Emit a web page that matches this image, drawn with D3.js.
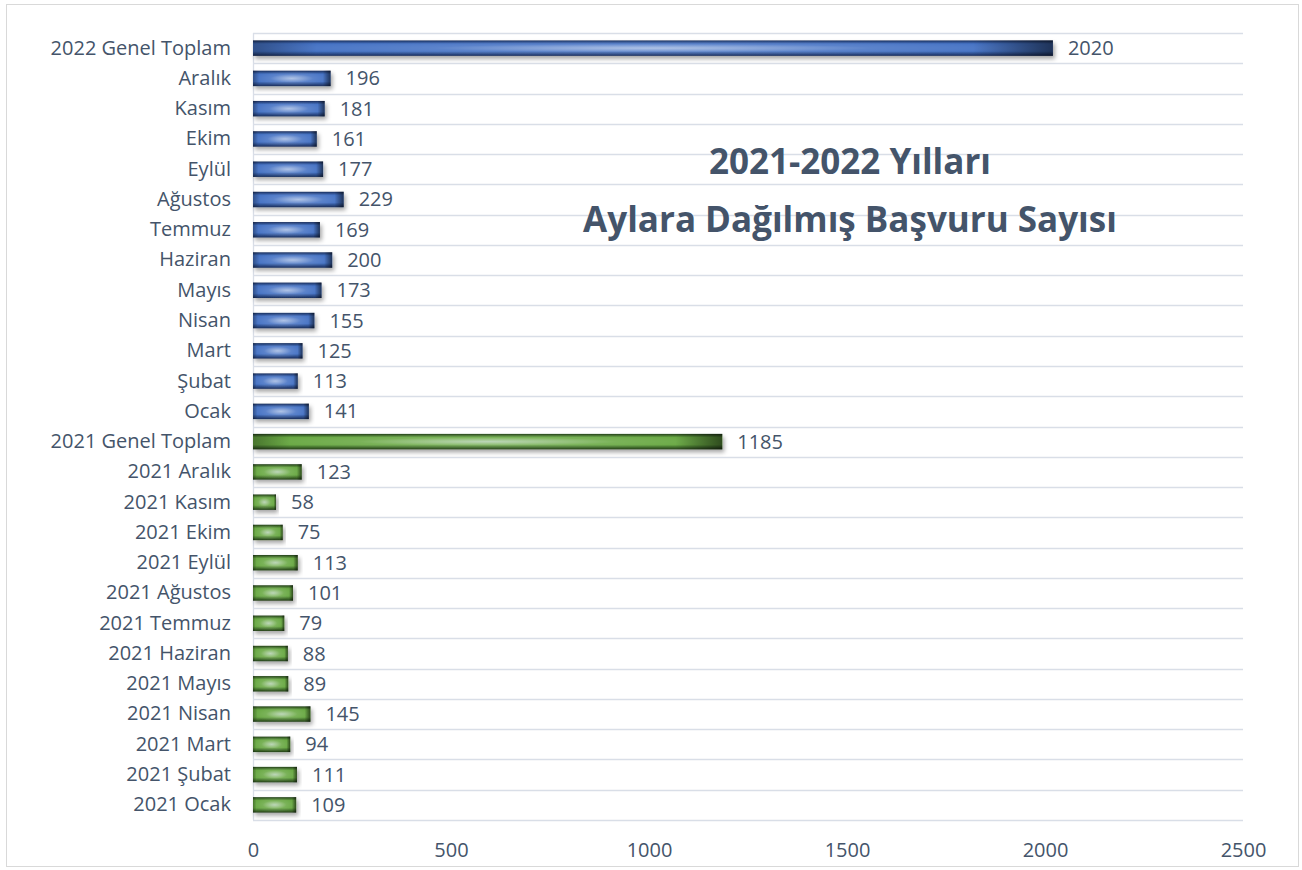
<!DOCTYPE html>
<html>
<head>
<meta charset="utf-8">
<script src="https://cdn.jsdelivr.net/npm/d3@7"></script>
<style>
  body { margin: 0; background: #fff; }
  text { font-family: "Open Sans", "Noto Sans", sans-serif; fill: #44546a; }
</style>
</head>
<body>
<div id="chart"></div>
<script>
// categories, top to bottom
var categories = ["2022 Genel Toplam", "Aralık", "Kasım", "Ekim", "Eylül", "Ağustos", "Temmuz",
	"Haziran", "Mayıs", "Nisan", "Mart", "Şubat", "Ocak",
	"2021 Genel Toplam", "2021 Aralık", "2021 Kasım", "2021 Ekim", "2021 Eylül", "2021 Ağustos",
	"2021 Temmuz", "2021 Haziran", "2021 Mayıs", "2021 Nisan", "2021 Mart", "2021 Şubat", "2021 Ocak"];
var values = [2020, 196, 181, 161, 177, 229, 169, 200, 173, 155, 125, 113, 141,
	1185, 123, 58, 75, 113, 101, 79, 88, 89, 145, 94, 111, 109];
var years = ["2022", "2022", "2022", "2022", "2022", "2022", "2022", "2022", "2022", "2022", "2022", "2022", "2022",
	"2021", "2021", "2021", "2021", "2021", "2021", "2021", "2021", "2021", "2021", "2021", "2021", "2021"];
var xTicks = [0, 500, 1000, 1500, 2000, 2500];
var titleLines = ["2021-2022 Yılları", "Aylara Dağılmış Başvuru Sayısı"];

var svgWidth = 1302, svgHeight = 870;
var plotLeft = 253, plotRight = 1243, plotTop = 33, plotBottom = 820;

var svg = d3.select('#chart').append('svg')
	.attr('width', svgWidth)
	.attr('height', svgHeight);

var defs = svg.append('defs');

// base shading: thin dark rim top and bottom
function makeGrad(id, dark, base) {
	var g = defs.append('linearGradient').attr('id', id)
		.attr('x1', 0).attr('y1', 0).attr('x2', 0).attr('y2', 1);
	g.append('stop').attr('offset', '0%').attr('stop-color', dark);
	g.append('stop').attr('offset', '22%').attr('stop-color', base);
	g.append('stop').attr('offset', '70%').attr('stop-color', base);
	g.append('stop').attr('offset', '100%').attr('stop-color', dark);
}
makeGrad('grad2022', '#1b2f5c', '#4472c4');
makeGrad('grad2021', '#24401a', '#68a843');

// soft glow in the middle
var glow = defs.append('radialGradient').attr('id', 'glow')
	.attr('cx', '50%').attr('cy', '50%').attr('r', '50%');
glow.append('stop').attr('offset', '0%').attr('stop-color', '#e8eef8').attr('stop-opacity', 0.65);
glow.append('stop').attr('offset', '55%').attr('stop-color', '#ffffff').attr('stop-opacity', 0.12);
glow.append('stop').attr('offset', '100%').attr('stop-color', '#ffffff').attr('stop-opacity', 0);

// darker ends left and right
var ends = defs.append('linearGradient').attr('id', 'ends')
	.attr('x1', 0).attr('y1', 0).attr('x2', 1).attr('y2', 0);
ends.append('stop').attr('offset', '0%').attr('stop-color', '#000').attr('stop-opacity', 0.3);
ends.append('stop').attr('offset', '8%').attr('stop-color', '#000').attr('stop-opacity', 0);
ends.append('stop').attr('offset', '90%').attr('stop-color', '#000').attr('stop-opacity', 0);
ends.append('stop').attr('offset', '100%').attr('stop-color', '#000').attr('stop-opacity', 0.55);

var shadow = defs.append('filter').attr('id', 'shadow')
	.attr('x', '-5%').attr('y', '-50%').attr('width', '115%').attr('height', '250%');
shadow.append('feDropShadow').attr('dx', 2).attr('dy', 3).attr('stdDeviation', 2.2)
	.attr('flood-color', '#000').attr('flood-opacity', 0.35);

// outer border
svg.append('rect')
	.attr('x', 6.5).attr('y', 4.5)
	.attr('width', 1292).attr('height', 862)
	.style('fill', 'none').style('stroke', '#d9d9d9');

var x = d3.scaleLinear().domain([0, 2500]).range([plotLeft, plotRight]);
var y = d3.scaleBand().domain(categories).range([plotTop, plotBottom]).paddingInner(0.49).paddingOuter(0.245);
var rows = d3.scaleBand().domain(categories).range([plotTop, plotBottom]);

// horizontal grid lines between rows
var gridY = categories.map(function(c) { return rows(c); }).concat([plotBottom]);
svg.selectAll('.grid').data(gridY).enter().append('line')
	.attr('class', 'grid')
	.attr('x1', plotLeft).attr('x2', plotRight)
	.attr('y1', function(d) { return Math.round(d) + 0.5; })
	.attr('y2', function(d) { return Math.round(d) + 0.5; })
	.style('stroke', '#d9dee7').style('stroke-width', 1.3);

svg.append('line')
	.attr('x1', plotLeft + 0.5).attr('x2', plotLeft + 0.5)
	.attr('y1', plotTop).attr('y2', plotBottom)
	.style('stroke', '#d9dee7').style('stroke-width', 1.3);

// x axis labels
var xAxis = svg.append('g')
	.attr('transform', 'translate(0,' + (plotBottom + 30) + ')')
	.call(d3.axisBottom(x).tickValues(xTicks).tickFormat(d3.format('d')).tickSize(0).tickPadding(0));
xAxis.select('.domain').remove();
xAxis.selectAll('text').style('font-size', '20px').attr('dy', '0.35em');

// y axis labels
var yAxis = svg.append('g')
	.attr('transform', 'translate(' + (plotLeft - 22) + ',0)')
	.call(d3.axisLeft(rows).tickSize(0).tickPadding(0));
yAxis.select('.domain').remove();
yAxis.selectAll('text').style('font-size', '20px');

var data = categories.map(function(c, i) { return {cat: c, value: values[i], year: years[i]}; });

var bars = svg.selectAll('.bar').data(data).enter().append('g').attr('class', 'bar');
bars.append('rect')
	.attr('x', x(0))
	.attr('y', function(d) { return y(d.cat); })
	.attr('width', function(d) { return x(d.value) - x(0); })
	.attr('height', y.bandwidth())
	.attr('filter', 'url(#shadow)')
	.style('fill', function(d) { return 'url(#grad' + d.year + ')'; });
['glow', 'ends'].forEach(function(id) {
	bars.append('rect')
		.attr('x', x(0))
		.attr('y', function(d) { return y(d.cat); })
		.attr('width', function(d) { return x(d.value) - x(0); })
		.attr('height', y.bandwidth())
		.style('fill', 'url(#' + id + ')');
});

bars.append('text')
	.attr('x', function(d) { return x(d.value) + 15; })
	.attr('y', function(d) { return rows(d.cat) + rows.bandwidth() / 2; })
	.attr('dy', '0.35em')
	.style('font-size', '20px')
	.text(function(d) { return d.value; });

// title
svg.selectAll('.title').data(titleLines).enter().append('text')
	.attr('class', 'title')
	.attr('x', 850)
	.attr('y', function(d, i) { return 162 + i * 58; })
	.attr('dy', '0.35em')
	.attr('text-anchor', 'middle')
	.style('font-size', '35px')
	.style('font-weight', 'bold')
	.text(function(d) { return d; });
</script>
</body>
</html>
